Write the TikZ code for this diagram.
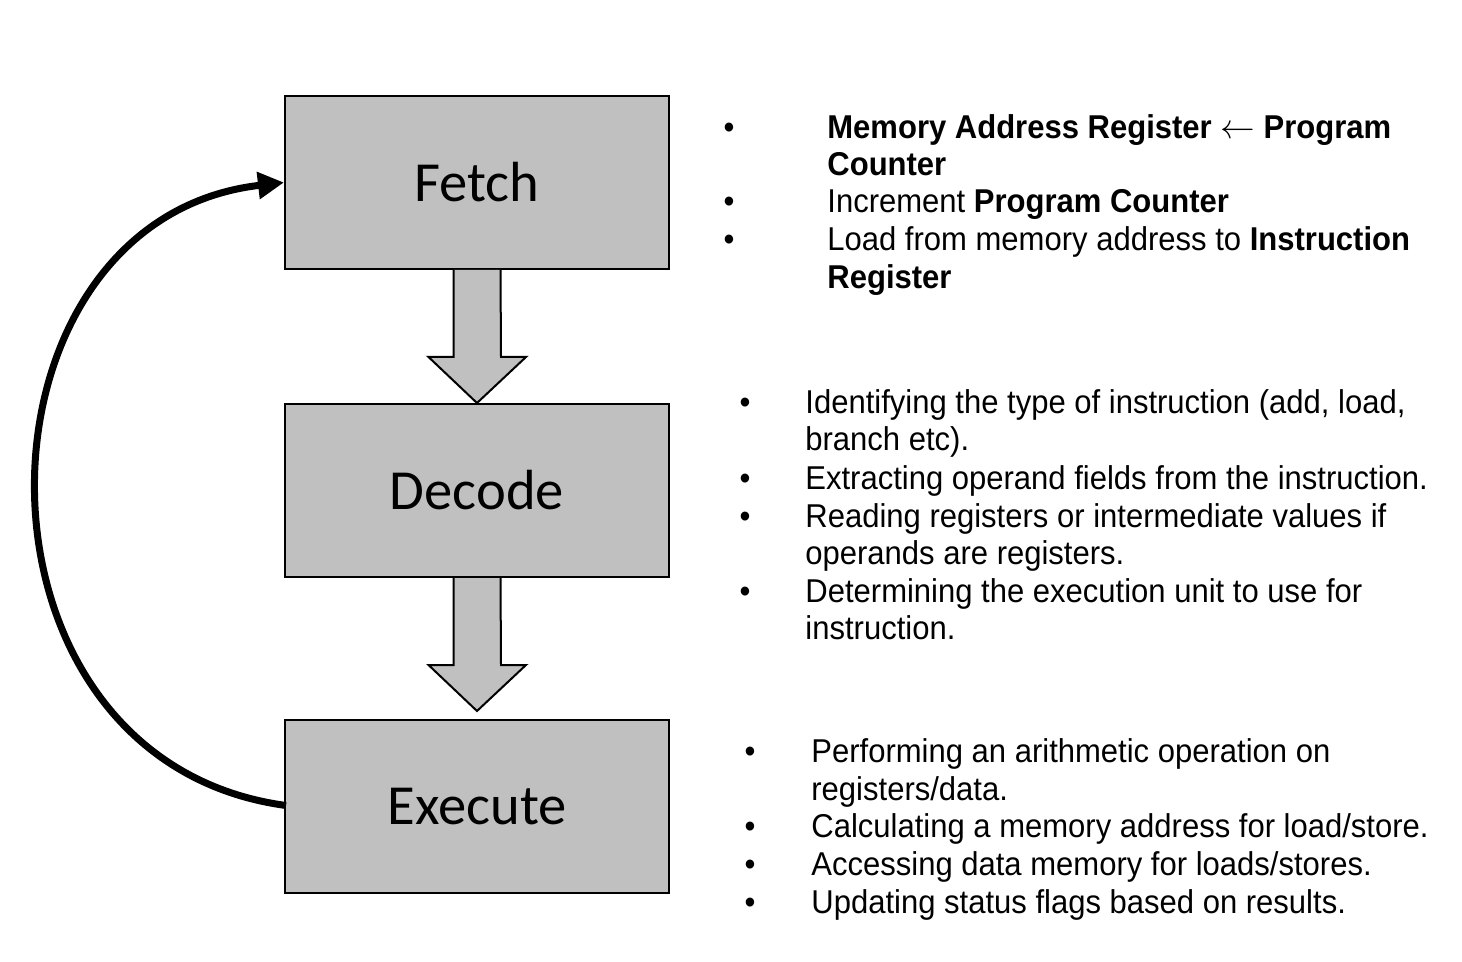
\documentclass[tikz,border=0pt]{standalone}
\usepackage{fontspec}
\setmainfont[FakeStretch=0.94]{Liberation Sans}
\newfontfamily\boxfont{Carlito}
\usetikzlibrary{calc,arrows.meta}
\begin{document}
\begin{tikzpicture}[x=0.5pt,y=-0.5pt,
  stage/.style={draw=black,line width=1pt,fill=boxgray,minimum width=192pt,minimum height=86.5pt,
    inner sep=0pt,font=\boxfont\fontsize{28.3}{32}\selectfont},
  blockarrow/.style={draw=black,line width=1pt,fill=boxgray,line join=miter},
  txt/.style={anchor=base west,inner sep=0pt,font=\fontsize{16.5}{18.75}\selectfont},
  dot/.style={anchor=base,inner sep=0pt,font=\fontsize{16.5}{18.75}\selectfont},
  loop/.style={line width=3.5pt,-{Triangle[length=13pt,width=13pt]}}]
\definecolor{boxgray}{RGB}{192,192,192}
\useasboundingbox (0,0) rectangle (1462,962);

% the three stages
\node[stage] (fetch)   at (477,182.5) {Fetch};
\node[stage] (decode)  at (477,490.5) {Decode};
\node[stage] (execute) at (477,806.5) {Execute};
\coordinate (exectip) at ($(execute.north)+(0,-8)$);

% block arrows between the stages
\draw[blockarrow] ($(fetch.south)+(-23.5,0)$) -- ++(0,87) -- ++(-25,0)
  -- (decode.north) -- ($(fetch.south)+(49,87)$) -- ++(-25,0) -- ($(fetch.south)+(23.5,0)$);
\draw[blockarrow] ($(decode.south)+(-23.5,0)$) -- ++(0,87) -- ++(-25,0)
  -- (exectip) -- ($(decode.south)+(49,87)$) -- ++(-25,0) -- ($(decode.south)+(23.5,0)$);

% return loop from execute back to fetch
\draw[loop] ($(execute.west)+(2,-1)$) .. controls (-50,760) and (-40,220) .. (fetch.west);

% fetch notes
\node[dot] (fb1) at (729,139) {•};
\node[txt] (ft1) at (827,139) {\textbf{Memory Address Register \(\leftarrow\) Program}};
\node[txt] (ft2) at (827,176) {\textbf{Counter}};
\node[dot] (fb2) at (729,213) {•};
\node[txt] (ft3) at (827,213) {Increment \textbf{Program Counter}};
\node[dot] (fb3) at (729,251) {•};
\node[txt] (ft4) at (827,251) {Load from memory address to \textbf{Instruction}};
\node[txt] (ft5) at (827,289) {\textbf{Register}};

% decode notes
\node[dot] (db1) at (745,414) {•};
\node[txt] (dt1) at (805,414) {Identifying the type of instruction (add, load,};
\node[txt] (dt2) at (805,451) {branch etc).};
\node[dot] (db2) at (745,489) {•};
\node[txt] (dt3) at (805,489) {Extracting operand fields from the instruction.};
\node[dot] (db3) at (745,527) {•};
\node[txt] (dt4) at (805,527) {Reading registers or intermediate values if};
\node[txt] (dt5) at (805,564) {operands are registers.};
\node[dot] (db4) at (745,602) {•};
\node[txt] (dt6) at (805,602) {Determining the execution unit to use for};
\node[txt] (dt7) at (805,639) {instruction.};

% execute notes
\node[dot] (eb1) at (750,762) {•};
\node[txt] (et1) at (811,762) {Performing an arithmetic operation on};
\node[txt] (et2) at (811,800) {registers/data.};
\node[dot] (eb2) at (750,837) {•};
\node[txt] (et3) at (811,837) {Calculating a memory address for load/store.};
\node[dot] (eb3) at (750,875) {•};
\node[txt] (et4) at (811,875) {Accessing data memory for loads/stores.};
\node[dot] (eb4) at (750,913) {•};
\node[txt] (et5) at (811,913) {Updating status flags based on results.};
\end{tikzpicture}
\end{document}
